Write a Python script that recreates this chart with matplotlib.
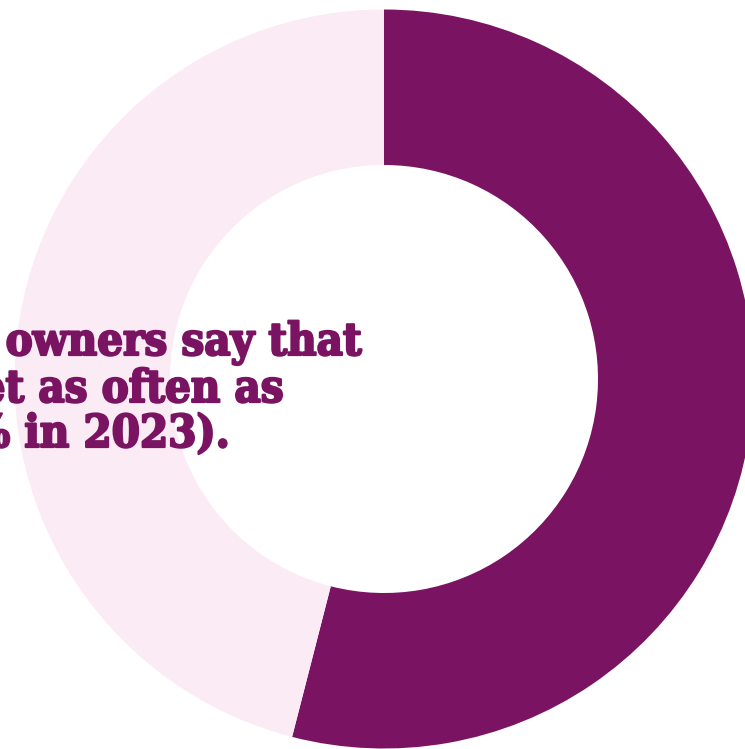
import matplotlib.pyplot as plt
import matplotlib.patheffects as pe

shares = [54, 46]
labels = ["Yes", "No"]
colors = ["#7a1462", "#fbebf4"]
text_lines = ["owners say that", "et as often as", "% in 2023)."]

W, H = 745, 749
fig = plt.figure(figsize=(W / 100, H / 100), dpi=100)
ax = fig.add_axes([0, 0, 1, 1])

ax.pie(shares, labels=None, colors=colors, startangle=90, counterclock=False,
       center=(384, H - 379), radius=369.5, frame=True,
       wedgeprops=dict(width=155.5, linewidth=0))
ax.set_xlim(0, W)
ax.set_ylim(0, H)
ax.set_aspect("equal")
ax.axis("off")

# text block is cut at the left edge of the picture, so anchor each line at its right end
line_right = [361, 283, 230]
line_y = [355, 402, 447]
for s, x, y in zip(text_lines, line_right, line_y):
    ax.text(x, H - y, s, fontsize=32.5, fontweight="bold", color="#7a1462",
            family="DejaVu Serif", fontstretch="condensed",
            ha="right", va="baseline",
            path_effects=[pe.withStroke(linewidth=1.6, foreground="#7a1462")])

fig.savefig("out.png", dpi=100)
